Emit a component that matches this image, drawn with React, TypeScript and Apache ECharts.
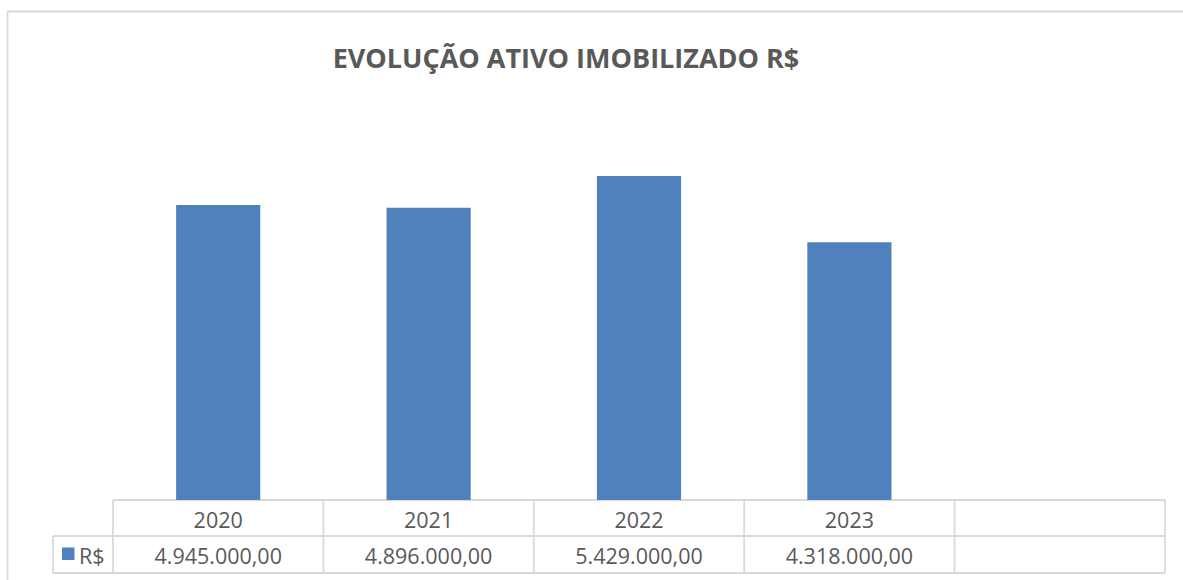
import React, { useEffect, useRef } from "react";
import * as echarts from "echarts";

const categories = ["2020", "2021", "2022", "2023", ""];
const values = [4945000, 4896000, 5429000, 4318000, null];
const seriesName = "R$";
const titleText = "EVOLUÇÃO ATIVO IMOBILIZADO R$";

const W = 1183;
const H = 580;
const GRID_LEFT = 113;
const GRID_RIGHT_X = 1165;
const GRID_TOP = 142;
const GRID_BOTTOM_Y = 500;
const ROW1_Y = 536;
const ROW2_Y = 573;
const LEGEND_X = 53;
const LINE_COLOR = "#d9d9d9";
const TEXT_COLOR = "#595959";
const BAR_COLOR = "#4f81bd";
const TABLE_FONT = 21.5;

function fmt(v: number | null): string {
  if (v === null || v === undefined) return "";
  const fixed = v.toFixed(2);
  const [intPart, dec] = fixed.split(".");
  const withDots = intPart.replace(/\B(?=(\d{3})+(?!\d))/g, ".");
  return withDots + "," + dec;
}

export default function App() {
  const ref = useRef<HTMLDivElement>(null);
  useEffect(() => {
    if (!ref.current) return;
    const chart = echarts.init(ref.current, undefined, { renderer: "svg" });
    const n = categories.length;
    const colW = (GRID_RIGHT_X - GRID_LEFT) / n;
    const lineStyle = { stroke: LINE_COLOR, lineWidth: 1.8 };
    const graphics: any[] = [];
    graphics.push({ type: "line", shape: { x1: 7.5, y1: 11.5, x2: W, y2: 11.5 }, style: lineStyle, silent: true });
    graphics.push({ type: "line", shape: { x1: 7.5, y1: 11.5, x2: 7.5, y2: H }, style: lineStyle, silent: true });
    graphics.push({ type: "line", shape: { x1: GRID_LEFT, y1: GRID_BOTTOM_Y, x2: GRID_RIGHT_X, y2: GRID_BOTTOM_Y }, style: lineStyle, silent: true });
    graphics.push({ type: "line", shape: { x1: LEGEND_X, y1: ROW1_Y, x2: GRID_RIGHT_X, y2: ROW1_Y }, style: lineStyle, silent: true });
    graphics.push({ type: "line", shape: { x1: LEGEND_X, y1: ROW2_Y, x2: GRID_RIGHT_X, y2: ROW2_Y }, style: lineStyle, silent: true });
    graphics.push({ type: "line", shape: { x1: LEGEND_X, y1: ROW1_Y, x2: LEGEND_X, y2: ROW2_Y }, style: lineStyle, silent: true });
    for (let i = 0; i <= n; i++) {
      const x = GRID_LEFT + i * colW;
      graphics.push({ type: "line", shape: { x1: x, y1: GRID_BOTTOM_Y, x2: x, y2: ROW2_Y }, style: lineStyle, silent: true });
    }
    for (let i = 0; i < n; i++) {
      const cx = GRID_LEFT + (i + 0.5) * colW;
      graphics.push({
        type: "text",
        style: { text: categories[i], x: cx, y: (GRID_BOTTOM_Y + ROW1_Y) / 2 + 1, align: "center", verticalAlign: "middle", fill: TEXT_COLOR, fontSize: TABLE_FONT, fontFamily: "Open Sans" },
        silent: true,
      });
      graphics.push({
        type: "text",
        style: { text: fmt(values[i] as any), x: cx, y: (ROW1_Y + ROW2_Y) / 2 + 1, align: "center", verticalAlign: "middle", fill: TEXT_COLOR, fontSize: TABLE_FONT, fontFamily: "Open Sans" },
        silent: true,
      });
    }
    graphics.push({ type: "rect", shape: { x: 62, y: 547.5, width: 12.5, height: 12.5 }, style: { fill: BAR_COLOR }, silent: true });
    graphics.push({
      type: "text",
      style: { text: seriesName, x: 79, y: (ROW1_Y + ROW2_Y) / 2 + 1, align: "left", verticalAlign: "middle", fill: TEXT_COLOR, fontSize: TABLE_FONT, fontFamily: "Open Sans" },
      silent: true,
    });

    chart.setOption({
      animation: false,
      backgroundColor: "#ffffff",
      title: {
        text: titleText,
        left: 561,
        top: 52,
        textAlign: "center",
        textVerticalAlign: "middle",
        textStyle: { color: TEXT_COLOR, fontSize: 27, fontWeight: "bold", fontFamily: "Open Sans" },
      },
      grid: { left: GRID_LEFT, right: W - GRID_RIGHT_X, top: GRID_TOP, bottom: H - GRID_BOTTOM_Y, containLabel: false },
      xAxis: {
        type: "category",
        data: categories,
        axisLine: { show: false },
        axisTick: { show: false },
        axisLabel: { show: false },
      },
      yAxis: {
        type: "value",
        min: 0,
        max: 6000000,
        show: false,
        splitLine: { show: false },
      },
      series: [
        {
          name: seriesName,
          type: "bar",
          data: values,
          barWidth: "40%",
          itemStyle: { color: BAR_COLOR },
        },
      ],
      graphic: graphics,
    });
    return () => chart.dispose();
  }, []);
  return <div ref={ref} style={{ position: "fixed", left: 0, top: 0, width: W, height: H }} />;
}
